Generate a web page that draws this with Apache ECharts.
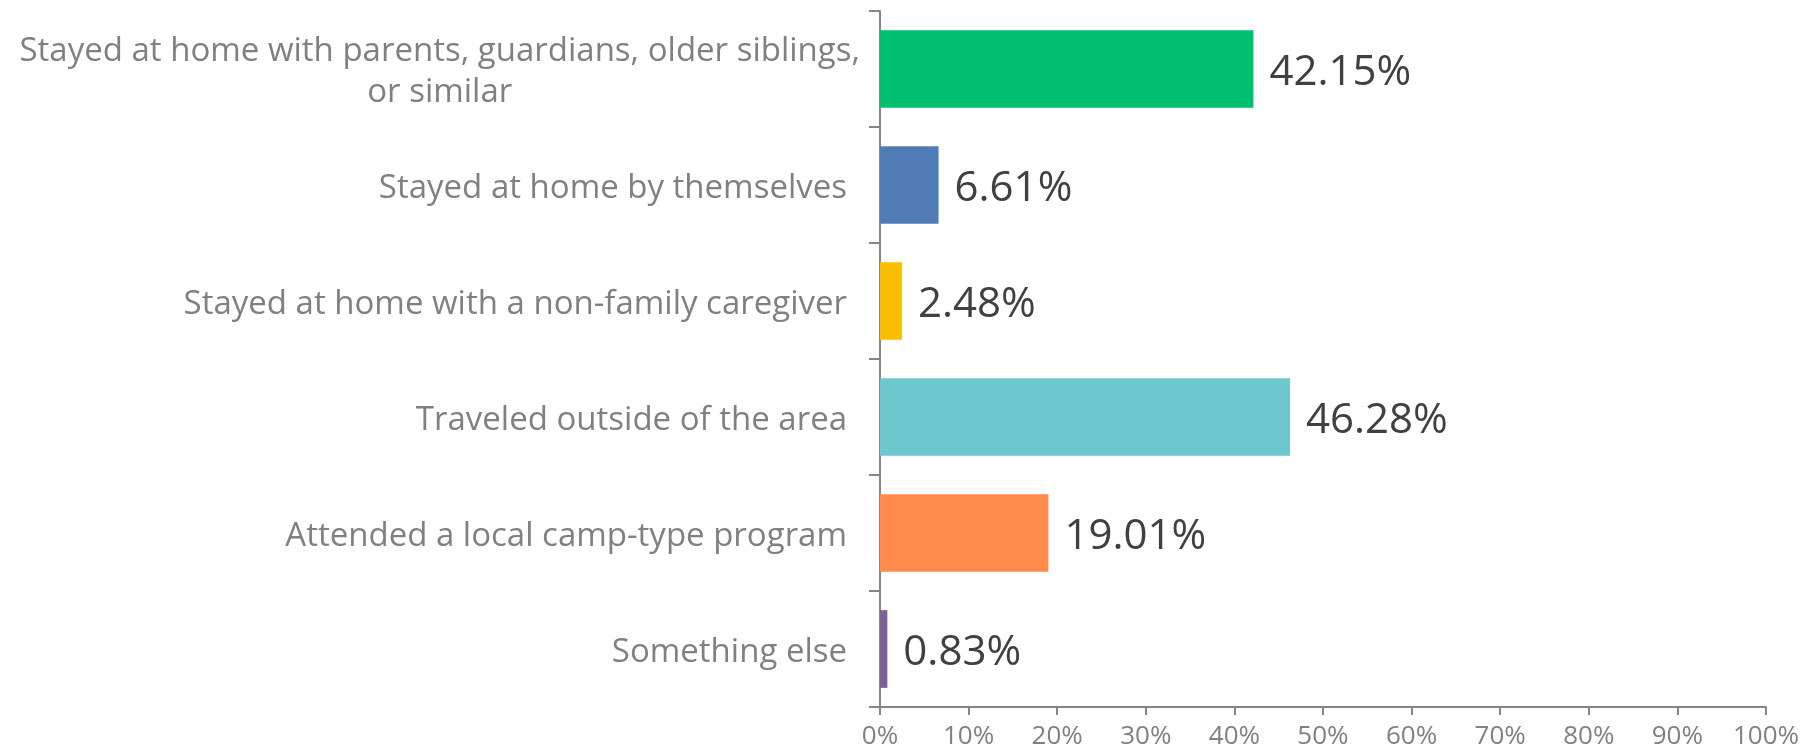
<!DOCTYPE html>
<html>
<head>
<meta charset="utf-8">
<script src="https://cdn.jsdelivr.net/npm/echarts@6/dist/echarts.min.js"></script>
<style>
html,body{margin:0;padding:0;background:#fff;}
#c{width:1802px;height:753px;}
</style>
</head>
<body>
<div id="c"></div>
<script>
const categories = [
  "Stayed at home with parents, guardians, older siblings,\nor similar",
  "Stayed at home by themselves",
  "Stayed at home with a non-family caregiver",
  "Traveled outside of the area",
  "Attended a local camp-type program",
  "Something else"
];
const values = [42.15, 6.61, 2.48, 46.28, 19.01, 0.83];
const colors = ["#00BF6F", "#4F7CB5", "#F9BE00", "#6CC8CC", "#FF8A4C", "#7F5F97"];
const xTicks = [0, 10, 20, 30, 40, 50, 60, 70, 80, 90, 100];

const font = "'Open Sans', sans-serif";
const chart = echarts.init(document.getElementById('c'));
chart.setOption({
  animation: false,
  grid: {left: 880, right: 34, top: 11, bottom: 46, containLabel: false},
  xAxis: {
    type: 'value', min: 0, max: 100, interval: 10,
    axisLine: {show: true, lineStyle: {color: '#868686', width: 2}},
    axisTick: {show: true, length: 8, lineStyle: {color: '#868686', width: 2}},
    splitLine: {show: false},
    axisLabel: {
      formatter: v => v + '%', color: '#808080', fontSize: 26, fontFamily: font, margin: 17
    }
  },
  yAxis: {
    type: 'category', data: categories, inverse: true,
    axisLine: {show: true, lineStyle: {color: '#868686', width: 2}},
    axisTick: {show: true, length: 11, lineStyle: {color: '#868686', width: 2}},
    axisLabel: {
      color: '#808080', fontSize: 33, fontFamily: font, margin: 20, lineHeight: 41,
      padding: [7, 0, 0, 0],
      formatter: v => {
        const parts = v.split('\n');
        if (parts.length > 1) return parts.map(s => '{c|' + s + '}').join('\n');
        return '{s|' + v + '}';
      },
      rich: {
        c: {align: 'center', color: '#808080', fontSize: 33, fontFamily: font, lineHeight: 41},
        s: {color: '#808080', fontSize: 33, fontFamily: font, lineHeight: 41, padding: [0, 13, 0, 0]}
      }
    }
  },
  series: [{
    type: 'bar',
    data: values.map((v, i) => ({value: v, itemStyle: {color: colors[i]}})),
    barCategoryGap: '33%',
    label: {
      show: true, position: 'right', distance: 16, offset: [0, 4],
      formatter: p => p.value.toFixed(2) + '%',
      color: '#404040', fontSize: 42, fontFamily: font
    }
  }]
});
</script>
</body>
</html>
